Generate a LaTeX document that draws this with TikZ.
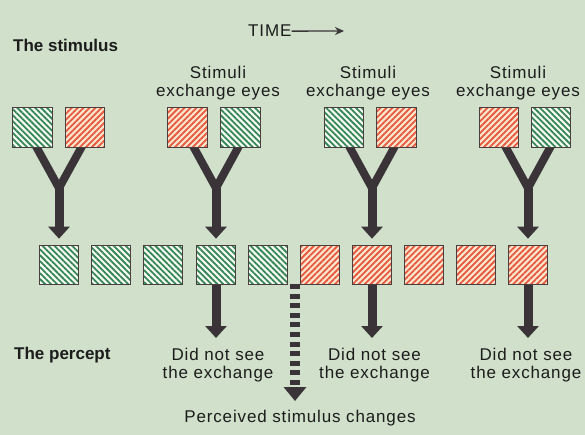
\documentclass[tikz,border=0pt]{standalone}
\usepackage{fontspec}
\newfontfamily\labfont[LetterSpace=5]{Liberation Sans}
\newfontfamily\headfont{Liberation Sans}
\usetikzlibrary{arrows.meta,patterns.meta}
\definecolor{bgc}{HTML}{D0E0CA}
\definecolor{arrc}{HTML}{3A3438}
\definecolor{boxline}{HTML}{4A3E3E}
\definecolor{gstripe}{HTML}{358656}
\definecolor{gbase}{HTML}{F6FAF2}
\definecolor{rstripe}{HTML}{E5583F}
\definecolor{rbase}{HTML}{FAE6CC}
\definecolor{txt}{HTML}{1C1C1C}
\pgfdeclarelayer{back}
\pgfdeclarelayer{lines}
\pgfsetlayers{back,lines,main}
\begin{document}
\begin{tikzpicture}[x=1pt,y=-1pt,
  sq/.style={draw=boxline,line width=1.1pt,minimum size=39.5pt,inner sep=0pt},
  gbox/.style={sq,preaction={fill=gbase},pattern={Lines[angle=-45,distance=4.2pt,line width=1.8pt]},pattern color=gstripe},
  rbox/.style={sq,preaction={fill=rbase},pattern={Lines[angle=45,distance=4.2pt,line width=1.8pt]},pattern color=rstripe},
  branch/.style={draw=arrc,line width=8pt,line join=miter,shorten <=-7pt},
  stemarrow/.style={draw=arrc,line width=9pt,-{Triangle[length=12pt,width=21pt]}},
  dasharrow/.style={draw=arrc,line width=9.5pt,dash pattern=on 5pt off 4.6pt,-{Triangle[length=14pt,width=22pt]}},
  lbl/.style={font=\labfont\fontsize{17}{18}\selectfont,text=txt,inner sep=0pt,anchor=base},
  head/.style={font=\headfont\bfseries\fontsize{17}{18}\selectfont,text=txt,inner sep=0pt,anchor=base west}]
\begin{pgfonlayer}{back}
\fill[bgc] (0,0) rectangle (585,435);
\end{pgfonlayer}
\useasboundingbox (0,0) rectangle (585,435);

% texts
\node[head] (stim) at (13,51.5) {The stimulus};
\node[head] (perc) at (14,359.5) {The percept};
\node[lbl,anchor=base west] (tm) at (248,37) {TIME};
\coordinate (tmend) at (344,31);
\draw[arrc,line width=1.3pt,-{Stealth[length=9pt,width=8pt]}] (tm.east) -- (tmend);

\node[lbl] (s2a) at (218,78.3) {Stimuli};
\node[lbl] (s2b) at (218,96.7) {exchange eyes};
\node[lbl] (s3a) at (368,78.3) {Stimuli};
\node[lbl] (s3b) at (368,96.7) {exchange eyes};
\node[lbl] (s4a) at (518,78.3) {Stimuli};
\node[lbl] (s4b) at (518,96.7) {exchange eyes};

\node[lbl] (d1a) at (218,360.5) {Did not see};
\node[lbl] (d1b) at (218,378) {the exchange};
\node[lbl] (d2a) at (374.5,360.5) {Did not see};
\node[lbl] (d2b) at (374.5,378) {the exchange};
\node[lbl] (d3a) at (526,360.5) {Did not see};
\node[lbl] (d3b) at (526,378) {the exchange};

\node[lbl] (pc) at (300,422.5) {Perceived stimulus changes};

% top pairs
\node[gbox] (a1) at (32.5,127.5) {};
\node[rbox] (a2) at (85,127.5) {};
\node[rbox] (a3) at (187.5,127.5) {};
\node[gbox] (a4) at (240.5,127.5) {};
\node[gbox] (a5) at (344,127.5) {};
\node[rbox] (a6) at (396.5,127.5) {};
\node[rbox] (a7) at (499,127.5) {};
\node[gbox] (a8) at (551,127.5) {};

% percept row
\node[gbox] (b1) at (59,265) {};
\node[gbox] (b2) at (111,265) {};
\node[gbox] (b3) at (163,265) {};
\node[gbox] (b4) at (216,265) {};
\node[gbox] (b5) at (268,265) {};
\node[rbox] (b6) at (320,265) {};
\node[rbox] (b7) at (372,265) {};
\node[rbox] (b8) at (424,265) {};
\node[rbox] (b9) at (476,265) {};
\node[rbox] (b10) at (528,265) {};

% junctions
\coordinate (j1) at (59,188);
\coordinate (j2) at (216,188);
\coordinate (j3) at (372,188);
\coordinate (j4) at (528,188);
\coordinate (e1) at (216,338);
\coordinate (e2) at (372,338);
\coordinate (e3) at (528,338);
\coordinate (ds) at (295,284);
\coordinate (de) at (295,401);

\begin{pgfonlayer}{lines}
\draw[branch] ([xshift=4.5pt]a1.south) -- (j1) -- ++(0,12);
\draw[branch] ([xshift=-4pt]a2.south) -- (j1) -- ++(0,12);
\draw[branch] ([xshift=6.5pt]a3.south) -- (j2) -- ++(0,12);
\draw[branch] ([xshift=-2.5pt]a4.south) -- (j2) -- ++(0,12);
\draw[branch] ([xshift=6pt]a5.south) -- (j3) -- ++(0,12);
\draw[branch] ([xshift=-2.5pt]a6.south) -- (j3) -- ++(0,12);
\draw[branch] ([xshift=7pt]a7.south) -- (j4) -- ++(0,12);
\draw[branch] ([xshift=-1pt]a8.south) -- (j4) -- ++(0,12);
\end{pgfonlayer}
\draw[stemarrow,shorten >=6pt] (j1) -- (b1.north);
\draw[stemarrow,shorten >=6pt] (j2) -- (b4.north);
\draw[stemarrow,shorten >=6pt] (j3) -- (b7.north);
\draw[stemarrow,shorten >=6pt] (j4) -- (b10.north);

\draw[stemarrow] (b4.south) -- (e1);
\draw[stemarrow] (b7.south) -- (e2);
\draw[stemarrow] (b10.south) -- (e3);

\draw[dasharrow] (ds) -- (de);
\end{tikzpicture}
\end{document}
